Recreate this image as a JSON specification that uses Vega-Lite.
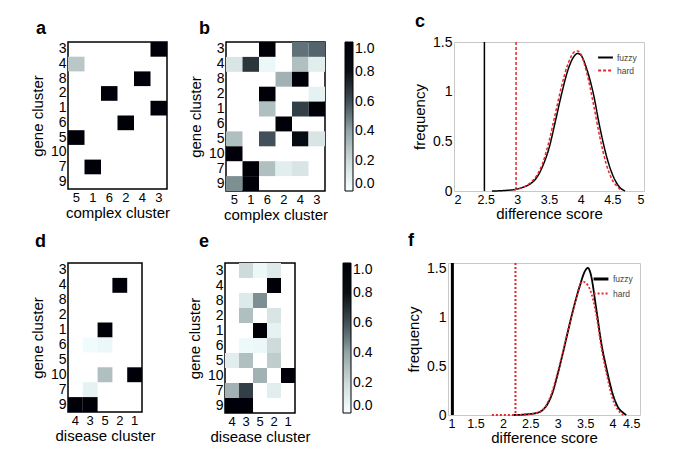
{
  "$schema": "https://vega.github.io/schema/vega-lite/v6.json",
  "padding": {"left": 29, "top": 12, "right": 0, "bottom": 0},
  "background": "white",
  "datasets": {
    "a": [
      {"col": 3, "row": 3, "v": 1}, {"col": 5, "row": 4, "v": 0.27}, {"col": 4, "row": 8, "v": 1},
      {"col": 6, "row": 2, "v": 1}, {"col": 3, "row": 1, "v": 1}, {"col": 2, "row": 6, "v": 1},
      {"col": 5, "row": 5, "v": 1}, {"col": 1, "row": 7, "v": 1}
    ],
    "b": [
      {"col": 6, "row": 3, "v": 1}, {"col": 4, "row": 3, "v": 0.52}, {"col": 3, "row": 3, "v": 0.55},
      {"col": 5, "row": 4, "v": 0.15}, {"col": 1, "row": 4, "v": 0.68}, {"col": 6, "row": 4, "v": 0.05}, {"col": 4, "row": 4, "v": 0.3}, {"col": 3, "row": 4, "v": 0.1},
      {"col": 2, "row": 8, "v": 0.35}, {"col": 4, "row": 8, "v": 1},
      {"col": 6, "row": 2, "v": 1}, {"col": 3, "row": 2, "v": 0.08},
      {"col": 6, "row": 1, "v": 0.3}, {"col": 4, "row": 1, "v": 0.65}, {"col": 3, "row": 1, "v": 1},
      {"col": 2, "row": 6, "v": 1},
      {"col": 5, "row": 5, "v": 0.3}, {"col": 6, "row": 5, "v": 0.6}, {"col": 4, "row": 5, "v": 0.85}, {"col": 3, "row": 5, "v": 0.15},
      {"col": 5, "row": 10, "v": 1},
      {"col": 1, "row": 7, "v": 1}, {"col": 6, "row": 7, "v": 0.3}, {"col": 2, "row": 7, "v": 0.1}, {"col": 4, "row": 7, "v": 0.15},
      {"col": 5, "row": 9, "v": 0.45}, {"col": 1, "row": 9, "v": 1}
    ],
    "d": [
      {"col": 2, "row": 4, "v": 1}, {"col": 5, "row": 1, "v": 1},
      {"col": 3, "row": 6, "v": 0.03}, {"col": 5, "row": 6, "v": 0.05},
      {"col": 5, "row": 10, "v": 0.3}, {"col": 1, "row": 10, "v": 1},
      {"col": 3, "row": 7, "v": 0.08},
      {"col": 4, "row": 9, "v": 1}, {"col": 3, "row": 9, "v": 1}
    ],
    "e": [
      {"col": 3, "row": 3, "v": 0.2}, {"col": 5, "row": 3, "v": 0.05}, {"col": 2, "row": 3, "v": 0.12},
      {"col": 2, "row": 4, "v": 1},
      {"col": 3, "row": 8, "v": 0.12}, {"col": 5, "row": 8, "v": 0.45},
      {"col": 3, "row": 2, "v": 0.3}, {"col": 2, "row": 2, "v": 0.15},
      {"col": 5, "row": 1, "v": 1}, {"col": 2, "row": 1, "v": 0.08},
      {"col": 3, "row": 6, "v": 0.04}, {"col": 5, "row": 6, "v": 0.05}, {"col": 2, "row": 6, "v": 0.2},
      {"col": 4, "row": 5, "v": 0.1}, {"col": 3, "row": 5, "v": 0.3}, {"col": 2, "row": 5, "v": 0.25},
      {"col": 5, "row": 10, "v": 0.35}, {"col": 1, "row": 10, "v": 1},
      {"col": 4, "row": 7, "v": 0.35}, {"col": 3, "row": 7, "v": 0.65}, {"col": 2, "row": 7, "v": 0.1},
      {"col": 4, "row": 9, "v": 1}, {"col": 3, "row": 9, "v": 1}
    ],
    "crule": [{"x": 2.48, "s": "fuzzy"}, {"x": 2.98, "s": "hard"}],
    "cline": [
      {"x": 2.6, "y": 0, "s": "fuzzy"}, {"x": 2.8, "y": 0.005, "s": "fuzzy"}, {"x": 3.0, "y": 0.02, "s": "fuzzy"},
      {"x": 3.1, "y": 0.04, "s": "fuzzy"}, {"x": 3.2, "y": 0.07, "s": "fuzzy"}, {"x": 3.3, "y": 0.13, "s": "fuzzy"},
      {"x": 3.4, "y": 0.25, "s": "fuzzy"}, {"x": 3.5, "y": 0.43, "s": "fuzzy"}, {"x": 3.6, "y": 0.7, "s": "fuzzy"},
      {"x": 3.7, "y": 0.98, "s": "fuzzy"}, {"x": 3.8, "y": 1.22, "s": "fuzzy"}, {"x": 3.9, "y": 1.36, "s": "fuzzy"},
      {"x": 3.95, "y": 1.385, "s": "fuzzy"}, {"x": 4.0, "y": 1.37, "s": "fuzzy"}, {"x": 4.1, "y": 1.22, "s": "fuzzy"},
      {"x": 4.2, "y": 0.98, "s": "fuzzy"}, {"x": 4.3, "y": 0.65, "s": "fuzzy"}, {"x": 4.4, "y": 0.37, "s": "fuzzy"},
      {"x": 4.5, "y": 0.17, "s": "fuzzy"}, {"x": 4.6, "y": 0.05, "s": "fuzzy"}, {"x": 4.7, "y": 0, "s": "fuzzy"},
      {"x": 2.95, "y": 0.01, "s": "hard"}, {"x": 3.0, "y": 0.02, "s": "hard"}, {"x": 3.1, "y": 0.04, "s": "hard"},
      {"x": 3.2, "y": 0.08, "s": "hard"}, {"x": 3.3, "y": 0.15, "s": "hard"}, {"x": 3.4, "y": 0.28, "s": "hard"},
      {"x": 3.5, "y": 0.5, "s": "hard"}, {"x": 3.6, "y": 0.78, "s": "hard"}, {"x": 3.7, "y": 1.06, "s": "hard"},
      {"x": 3.8, "y": 1.28, "s": "hard"}, {"x": 3.9, "y": 1.4, "s": "hard"}, {"x": 3.95, "y": 1.41, "s": "hard"},
      {"x": 4.0, "y": 1.38, "s": "hard"}, {"x": 4.1, "y": 1.18, "s": "hard"}, {"x": 4.2, "y": 0.88, "s": "hard"},
      {"x": 4.3, "y": 0.55, "s": "hard"}, {"x": 4.4, "y": 0.28, "s": "hard"}, {"x": 4.5, "y": 0.11, "s": "hard"},
      {"x": 4.6, "y": 0.03, "s": "hard"}, {"x": 4.65, "y": 0, "s": "hard"}
    ],
    "frule": [{"x": 1.08, "s": "fuzzy"}, {"x": 2.23, "s": "hard"}],
    "fline": [
      {"x": 2.2, "y": 0, "s": "fuzzy"}, {"x": 2.4, "y": 0.005, "s": "fuzzy"}, {"x": 2.6, "y": 0.02, "s": "fuzzy"},
      {"x": 2.7, "y": 0.04, "s": "fuzzy"}, {"x": 2.8, "y": 0.1, "s": "fuzzy"}, {"x": 2.9, "y": 0.22, "s": "fuzzy"},
      {"x": 3.0, "y": 0.42, "s": "fuzzy"}, {"x": 3.1, "y": 0.65, "s": "fuzzy"}, {"x": 3.2, "y": 0.89, "s": "fuzzy"},
      {"x": 3.3, "y": 1.12, "s": "fuzzy"}, {"x": 3.4, "y": 1.32, "s": "fuzzy"}, {"x": 3.5, "y": 1.48, "s": "fuzzy"},
      {"x": 3.55, "y": 1.51, "s": "fuzzy"}, {"x": 3.6, "y": 1.45, "s": "fuzzy"}, {"x": 3.7, "y": 1.1, "s": "fuzzy"},
      {"x": 3.8, "y": 0.72, "s": "fuzzy"}, {"x": 3.9, "y": 0.45, "s": "fuzzy"}, {"x": 4.0, "y": 0.22, "s": "fuzzy"},
      {"x": 4.1, "y": 0.08, "s": "fuzzy"}, {"x": 4.2, "y": 0.02, "s": "fuzzy"}, {"x": 4.25, "y": 0, "s": "fuzzy"},
      {"x": 1.8, "y": 0, "s": "hard"}, {"x": 2.2, "y": 0, "s": "hard"}, {"x": 2.5, "y": 0.01, "s": "hard"},
      {"x": 2.7, "y": 0.04, "s": "hard"}, {"x": 2.8, "y": 0.11, "s": "hard"}, {"x": 2.9, "y": 0.24, "s": "hard"},
      {"x": 3.0, "y": 0.44, "s": "hard"}, {"x": 3.1, "y": 0.66, "s": "hard"}, {"x": 3.2, "y": 0.9, "s": "hard"},
      {"x": 3.3, "y": 1.12, "s": "hard"}, {"x": 3.4, "y": 1.32, "s": "hard"}, {"x": 3.45, "y": 1.37, "s": "hard"},
      {"x": 3.5, "y": 1.36, "s": "hard"}, {"x": 3.55, "y": 1.33, "s": "hard"}, {"x": 3.6, "y": 1.27, "s": "hard"},
      {"x": 3.7, "y": 1.04, "s": "hard"}, {"x": 3.8, "y": 0.68, "s": "hard"}, {"x": 3.9, "y": 0.4, "s": "hard"},
      {"x": 4.0, "y": 0.17, "s": "hard"}, {"x": 4.1, "y": 0.05, "s": "hard"}, {"x": 4.2, "y": 0, "s": "hard"}
    ]
  },
  "vconcat": [
    {
      "hconcat": [
        {
          "hconcat": [
            {
              "width": 99, "height": 147,
              "view": {"stroke": "#000", "strokeWidth": 1.5},
              "title": {"text": "a", "dx": -32, "offset": 4},
              "data": {"name": "a"},
              "mark": "rect",
              "encoding": {
                "x": {"field": "col", "type": "ordinal", "scale": {"domain": [5, 1, 6, 2, 4, 3]}, "axis": {"title": "complex cluster", "labelAngle": 0}},
                "y": {"field": "row", "type": "ordinal", "scale": {"domain": [3, 4, 8, 2, 1, 6, 5, 10, 7, 9]}, "axis": {"title": "gene cluster"}},
                "color": {"field": "v", "type": "quantitative", "scale": {"domain": [0, 0.2, 0.4, 0.6, 0.8, 1], "range": ["#ffffff", "#cfdada", "#93a5a8", "#415059", "#0a0f14", "#000000"]}, "legend": null}
              }
            },
            {
              "width": 99, "height": 149,
              "view": {"stroke": "#000", "strokeWidth": 1.5},
              "title": {"text": "b", "dx": -27, "offset": 4},
              "data": {"name": "b"},
              "mark": "rect",
              "encoding": {
                "x": {"field": "col", "type": "ordinal", "scale": {"domain": [5, 1, 6, 2, 4, 3]}, "axis": {"title": "complex cluster", "labelAngle": 0}},
                "y": {"field": "row", "type": "ordinal", "scale": {"domain": [3, 4, 8, 2, 1, 6, 5, 10, 7, 9]}, "axis": {"title": "gene cluster"}},
                "color": {"field": "v", "type": "quantitative", "scale": {"domain": [0, 0.2, 0.4, 0.6, 0.8, 1], "range": ["#ffffff", "#cfdada", "#93a5a8", "#415059", "#0a0f14", "#000000"]},
                  "legend": {"title": null, "offset": 20, "gradientLength": 149, "gradientThickness": 8, "values": [0, 0.2, 0.4, 0.6, 0.8, 1], "format": ".1f"}}
              }
            }
          ],
          "spacing": 16,
          "resolve": {"scale": {"color": "independent"}, "legend": {"color": "independent"}}
        },
        {
          "width": 190, "height": 149,
          "view": {"stroke": "#c8c8c8", "strokeWidth": 1},
          "title": {"text": "c", "dx": -39, "offset": 4},
          "encoding": {
            "x": {"field": "x", "type": "quantitative", "scale": {"domain": [2, 5], "nice": false}, "axis": {"title": "difference score", "values": [2, 2.5, 3, 3.5, 4, 4.5, 5], "format": "~g", "labelFontSize": 12.5}},
            "color": {"field": "s", "type": "nominal", "scale": {"domain": ["fuzzy", "hard"], "range": ["#000000", "#e8262b"]},
              "legend": {"title": null, "orient": "top-right", "offset": 7, "labelFontSize": 8.5, "labelColor": "#444", "symbolType": "stroke", "symbolSize": 220, "symbolStrokeWidth": 2, "rowPadding": 0, "labelOffset": 3}},
            "strokeDash": {"field": "s", "type": "nominal", "scale": {"domain": ["fuzzy", "hard"], "range": [[1, 0], [3, 2]]},
              "legend": {"title": null, "orient": "top-right", "offset": 7, "labelFontSize": 8.5, "labelColor": "#444", "symbolType": "stroke", "symbolSize": 220, "symbolStrokeWidth": 2, "rowPadding": 0, "labelOffset": 3}}
          },
          "layer": [
            {"data": {"name": "crule"}, "mark": {"type": "rule", "strokeWidth": 1.5}},
            {"data": {"name": "cline"}, "mark": {"type": "line", "strokeWidth": 1.5, "interpolate": "monotone"},
              "encoding": {"y": {"field": "y", "type": "quantitative", "scale": {"domain": [0, 1.5], "nice": false}, "axis": {"title": "frequency", "values": [0, 0.5, 1, 1.5], "format": "~g"}}}}
          ]
        }
      ],
      "spacing": 36,
      "resolve": {"scale": {"color": "independent", "strokeDash": "independent"}, "legend": {"color": "independent", "strokeDash": "independent"}}
    },
    {
      "hconcat": [
        {
          "hconcat": [
            {
              "width": 74, "height": 149,
              "view": {"stroke": "#000", "strokeWidth": 1.5},
              "title": {"text": "d", "dx": -33, "offset": 12},
              "data": {"name": "d"},
              "mark": "rect",
              "encoding": {
                "x": {"field": "col", "type": "ordinal", "scale": {"domain": [4, 3, 5, 2, 1]}, "axis": {"title": "disease cluster", "labelAngle": 0}},
                "y": {"field": "row", "type": "ordinal", "scale": {"domain": [3, 4, 8, 2, 1, 6, 5, 10, 7, 9]}, "axis": {"title": "gene cluster"}},
                "color": {"field": "v", "type": "quantitative", "scale": {"domain": [0, 0.2, 0.4, 0.6, 0.8, 1], "range": ["#ffffff", "#cfdada", "#93a5a8", "#415059", "#0a0f14", "#000000"]}, "legend": null}
              }
            },
            {
              "width": 70, "height": 150,
              "view": {"stroke": "#000", "strokeWidth": 1.5},
              "title": {"text": "e", "dx": -26, "offset": 12},
              "data": {"name": "e"},
              "mark": "rect",
              "encoding": {
                "x": {"field": "col", "type": "ordinal", "scale": {"domain": [4, 3, 5, 2, 1]}, "axis": {"title": "disease cluster", "labelAngle": 0}},
                "y": {"field": "row", "type": "ordinal", "scale": {"domain": [3, 4, 8, 2, 1, 6, 5, 10, 7, 9]}, "axis": {"title": "gene cluster"}},
                "color": {"field": "v", "type": "quantitative", "scale": {"domain": [0, 0.2, 0.4, 0.6, 0.8, 1], "range": ["#ffffff", "#cfdada", "#93a5a8", "#415059", "#0a0f14", "#000000"]},
                  "legend": {"title": null, "offset": 48, "gradientLength": 150, "gradientThickness": 8, "values": [0, 0.2, 0.4, 0.6, 0.8, 1], "format": ".1f"}}
              }
            }
          ],
          "spacing": 30,
          "resolve": {"scale": {"color": "independent"}, "legend": {"color": "independent"}}
        },
        {
          "width": 192, "height": 152,
          "view": {"stroke": "#c8c8c8", "strokeWidth": 1},
          "title": {"text": "f", "dx": -40, "offset": 12},
          "encoding": {
            "x": {"field": "x", "type": "quantitative", "scale": {"domain": [1, 4.5], "nice": false}, "axis": {"title": "difference score", "values": [1, 1.5, 2, 2.5, 3, 3.5, 4, 4.5], "format": "~g", "labelFontSize": 12.5}},
            "color": {"field": "s", "type": "nominal", "scale": {"domain": ["fuzzy", "hard"], "range": ["#000000", "#e8262b"]},
              "legend": {"title": null, "orient": "top-right", "offset": 7, "labelFontSize": 8.5, "labelColor": "#444", "symbolType": "stroke", "symbolSize": 220, "symbolStrokeWidth": 2, "rowPadding": 0, "labelOffset": 3}},
            "strokeDash": {"field": "s", "type": "nominal", "scale": {"domain": ["fuzzy", "hard"], "range": [[1, 0], [2, 2]]},
              "legend": {"title": null, "orient": "top-right", "offset": 7, "labelFontSize": 8.5, "labelColor": "#444", "symbolType": "stroke", "symbolSize": 220, "symbolStrokeWidth": 2, "rowPadding": 0, "labelOffset": 3}}
          },
          "layer": [
            {"data": {"name": "frule"}, "mark": {"type": "rule"},
              "encoding": {"strokeWidth": {"field": "s", "type": "nominal", "scale": {"domain": ["fuzzy", "hard"], "range": [3, 2]}, "legend": null}}},
            {"data": {"name": "fline"}, "mark": {"type": "line", "strokeWidth": 1.8, "interpolate": "monotone"},
              "encoding": {"y": {"field": "y", "type": "quantitative", "scale": {"domain": [0, 1.56], "nice": false}, "axis": {"title": "frequency", "values": [0, 0.5, 1, 1.5], "format": "~g"}}}}
          ]
        }
      ],
      "spacing": 32,
      "resolve": {"scale": {"color": "independent", "strokeDash": "independent", "strokeWidth": "independent"}, "legend": {"color": "independent", "strokeDash": "independent"}}
    }
  ],
  "spacing": 8,
  "resolve": {"scale": {"color": "independent", "strokeDash": "independent", "strokeWidth": "independent"}, "legend": {"color": "independent", "strokeDash": "independent"}},
  "config": {
    "font": "Liberation Sans",
    "axis": {"labelFontSize": 14, "titleFontSize": 15, "titleFontWeight": "normal", "labelColor": "#000", "titleColor": "#000", "ticks": false, "domain": false, "grid": false, "labelPadding": 2, "titlePadding": 5},
    "axisX": {"labelFontSize": 13, "titlePadding": 1},
    "title": {"fontSize": 18, "fontWeight": "bold", "anchor": "start", "frame": "group", "color": "#000"},
    "legend": {"labelFontSize": 14, "labelColor": "#000", "labelOffset": 2, "gradientStrokeColor": "#000", "gradientStrokeWidth": 1, "padding": 0},
    "line": {"strokeCap": "butt"}
  }
}
